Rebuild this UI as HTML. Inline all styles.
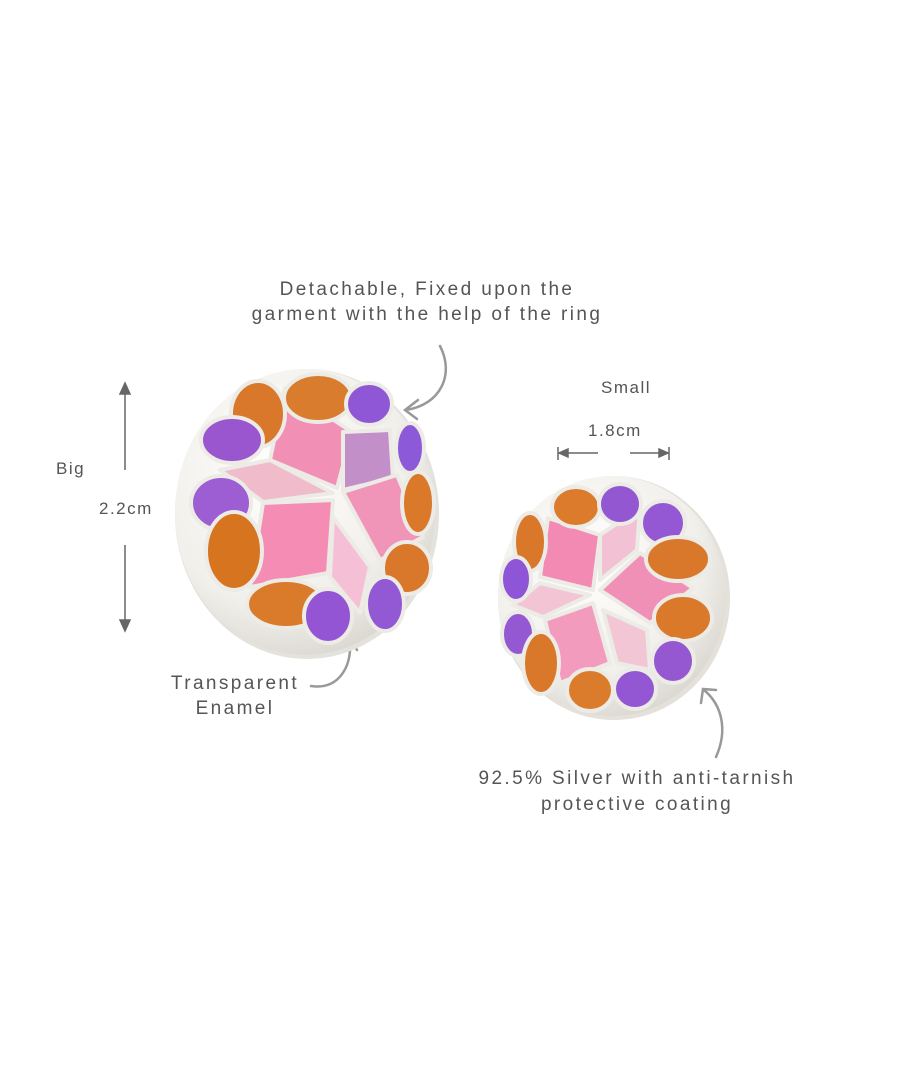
<!DOCTYPE html>
<html><head><meta charset="utf-8"><style>
html,body{margin:0;padding:0;background:#fff;}
svg{display:block}
text{font-family:"Liberation Sans",sans-serif;fill:#555;letter-spacing:2.4px}
</style></head><body>
<svg width="900" height="1080" viewBox="0 0 900 1080" xmlns="http://www.w3.org/2000/svg">
<defs>
<radialGradient id="sil" cx="40%" cy="35%" r="70%">
<stop offset="0" stop-color="#ffffff"/><stop offset="0.7" stop-color="#f1efea"/><stop offset="1" stop-color="#d9d6cf"/>
</radialGradient>
</defs>
<text x="427" y="295" font-size="19" text-anchor="middle">Detachable, Fixed upon the</text>
<text x="427" y="320" font-size="19" text-anchor="middle">garment with the help of the ring</text>
<text x="56" y="474" font-size="17" style="letter-spacing:1.5px">Big</text>
<text x="99" y="514" font-size="17" style="letter-spacing:1.5px">2.2cm</text>
<text x="601" y="393" font-size="17" style="letter-spacing:1.5px">Small</text>
<text x="588" y="436" font-size="17" style="letter-spacing:1.5px">1.8cm</text>
<text x="235" y="689" font-size="19" text-anchor="middle">Transparent</text>
<text x="235" y="714" font-size="19" text-anchor="middle">Enamel</text>
<text x="637" y="784" font-size="19" text-anchor="middle">92.5% Silver with anti-tarnish</text>
<text x="637" y="810" font-size="19" text-anchor="middle">protective coating</text>

<g stroke="#666" stroke-width="1.5" fill="#666">
<line x1="125" y1="392" x2="125" y2="470"/><polygon points="120,394 130,394 125,383" />
<line x1="125" y1="545" x2="125" y2="622"/><polygon points="120,620 130,620 125,631" />
<line x1="558" y1="447" x2="558" y2="460"/><line x1="560" y1="453" x2="598" y2="453"/><polygon points="568,449 568,457 559,453"/>
<line x1="669" y1="447" x2="669" y2="460"/><line x1="630" y1="453" x2="667" y2="453"/><polygon points="659,449 659,457 668,453"/>
</g>
<g stroke="#999" stroke-width="2.5" fill="none" stroke-linecap="round">
<path d="M440,346 C455,375 440,405 406,410"/><path d="M418,400 L405,410 L417,419"/>
<path d="M311,686 C338,690 352,668 350,640"/><path d="M341,648 L350,639 L357,650"/>
<path d="M716,757 C728,730 722,705 704,690"/><path d="M701,703 L703,689 L716,690"/>
</g>

<!-- Big earring -->
<ellipse cx="307" cy="514" rx="132" ry="145" fill="#e4e2dc"/>
<ellipse cx="305" cy="512" rx="130" ry="143" fill="url(#sil)"/>
<g stroke="#ecebe6" stroke-width="4" stroke-linejoin="round">
<polygon points="285,388 352,432 337,488 270,460" fill="#f18fb5"/>
<polygon points="343,432 390,430 393,478 343,490" fill="#c38fc8"/>
<polygon points="220,470 270,460 333,493 263,502" fill="#f0bccc"/>
<polygon points="263,503 333,500 328,573 250,587" fill="#f48cb4"/>
<polygon points="343,492 397,475 423,537 380,560" fill="#f195b8"/>
<polygon points="333,517 370,567 360,613 330,577" fill="#f5c0d6"/>
<ellipse cx="258" cy="414" rx="27" ry="33" fill="#d9772a"/>
<ellipse cx="318" cy="398" rx="34" ry="24" fill="#da7c2d"/>
<ellipse cx="369" cy="404" rx="23" ry="21" fill="#8f56d6"/>
<ellipse cx="232" cy="440" rx="31" ry="23" fill="#9a56cf"/>
<ellipse cx="410" cy="448" rx="14" ry="25" fill="#8c5ad8"/>
<ellipse cx="221" cy="503" rx="30" ry="27" fill="#9c5ed2"/>
<ellipse cx="234" cy="551" rx="28" ry="39" fill="#d6741f"/>
<ellipse cx="418" cy="503" rx="16" ry="31" fill="#da792a"/>
<ellipse cx="407" cy="568" rx="24" ry="26" fill="#d9782a"/>
<ellipse cx="385" cy="604" rx="19" ry="27" fill="#9358d3"/>
<ellipse cx="286" cy="604" rx="39" ry="24" fill="#da7b2c"/>
<ellipse cx="328" cy="616" rx="24" ry="27" fill="#9455d4"/>
</g>

<!-- Small earring -->
<ellipse cx="614" cy="598" rx="116" ry="122" fill="#e3e1da"/>
<ellipse cx="612" cy="596" rx="114" ry="120" fill="url(#sil)"/>
<g stroke="#ecebe6" stroke-width="4" stroke-linejoin="round">
<polygon points="548,518 600,535 593,590 540,577" fill="#f28ab3"/>
<polygon points="600,535 640,508 637,550 600,580" fill="#f2c2d4"/>
<polygon points="600,590 640,553 693,588 650,623" fill="#f090b6"/>
<polygon points="513,605 540,583 590,595 543,617" fill="#f2c4d4"/>
<polygon points="545,620 593,603 610,663 560,683" fill="#f39bbd"/>
<polygon points="603,610 647,630 650,670 617,663" fill="#f3c6d6"/>
<ellipse cx="576" cy="507" rx="24" ry="20" fill="#db7b2b"/>
<ellipse cx="620" cy="504" rx="21" ry="20" fill="#9357d2"/>
<ellipse cx="663" cy="523" rx="22" ry="22" fill="#9558d4"/>
<ellipse cx="530" cy="542" rx="16" ry="29" fill="#d9772a"/>
<ellipse cx="516" cy="579" rx="15" ry="22" fill="#8e55d6"/>
<ellipse cx="678" cy="559" rx="32" ry="22" fill="#d9782a"/>
<ellipse cx="683" cy="618" rx="29" ry="23" fill="#da792a"/>
<ellipse cx="518" cy="634" rx="16" ry="22" fill="#9459d2"/>
<ellipse cx="541" cy="663" rx="18" ry="31" fill="#d9772a"/>
<ellipse cx="673" cy="661" rx="21" ry="22" fill="#9658d1"/>
<ellipse cx="590" cy="690" rx="23" ry="21" fill="#db7c2d"/>
<ellipse cx="635" cy="689" rx="21" ry="20" fill="#9457d3"/>
</g>
</svg>
</body></html>
